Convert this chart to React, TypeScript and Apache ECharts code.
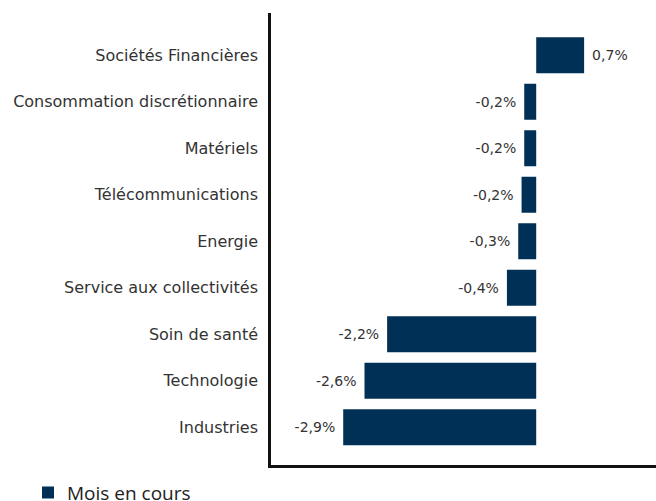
import React, { useEffect, useRef } from "react";
import * as echarts from "echarts";

const categories = [
  "Sociétés Financières",
  "Consommation discrétionnaire",
  "Matériels",
  "Télécommunications",
  "Energie",
  "Service aux collectivités",
  "Soin de santé",
  "Technologie",
  "Industries",
];
const values = [0.72, -0.18, -0.18, -0.22, -0.27, -0.44, -2.24, -2.58, -2.9];
const seriesName = "Mois en cours";

const BAR = "#003056";
const FONT = "DejaVu Sans";

export default function App() {
  const ref = useRef<HTMLDivElement>(null);
  useEffect(() => {
    const chart = echarts.init(ref.current!, null, { renderer: "svg" });
    chart.setOption({
      animation: false,
      textStyle: { fontFamily: FONT },
      grid: { left: 270, top: 32, height: 418.5, right: 0, containLabel: false },
      legend: {
        show: true,
        left: 42,
        top: 483,
        padding: 0,
        icon: "rect",
        itemWidth: 12,
        itemHeight: 12,
        itemGap: 10,
        textStyle: {
          fontFamily: "Open Sans",
          fontSize: 19,
          lineHeight: 17,
          color: "#222",
          padding: [0, 0, 0, 8],
        },
        data: [seriesName],
      },
      xAxis: {
        type: "value",
        min: -4,
        max: 1.8,
        offset: 16,
        axisLine: { show: true, onZero: false, lineStyle: { color: "#111", width: 3 } },
        axisTick: { show: false },
        axisLabel: { show: false },
        splitLine: { show: false },
      },
      yAxis: {
        type: "category",
        inverse: true,
        data: categories,
        axisLine: { show: false },
        axisTick: { show: false },
        axisLabel: { margin: 12, fontSize: 16, color: "#333", fontFamily: FONT },
      },
      graphic: [
        {
          type: "line",
          shape: { x1: 269.5, y1: 13, x2: 269.5, y2: 468 },
          style: { stroke: "#111", lineWidth: 3 },
        },
      ],
      series: [
        {
          name: seriesName,
          type: "bar",
          data: values.map((v) => ({
            value: v,
            label: { position: v >= 0 ? "right" : "left" },
          })),
          barWidth: 36,
          itemStyle: { color: BAR },
          label: {
            show: true,
            distance: 8,
            fontSize: 14,
            color: "#333",
            fontFamily: FONT,
            formatter: (p: any) => p.value.toFixed(1).replace(".", ",") + "%",
          },
        },
      ],
    });
    return () => chart.dispose();
  }, []);
  return <div ref={ref} style={{ width: 656, height: 501, position: "absolute", left: 0, top: 0 }} />;
}
